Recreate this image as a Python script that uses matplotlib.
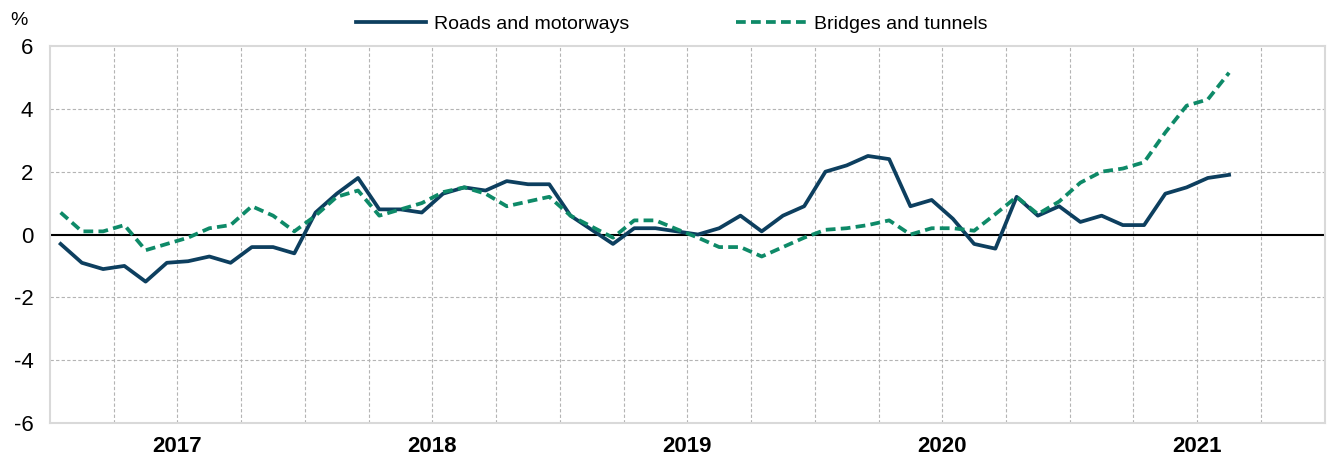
import numpy as np
import matplotlib
matplotlib.use("Agg")
import matplotlib.pyplot as plt

plt.rcParams['font.family'] = ['Liberation Sans Narrow', 'Liberation Sans', 'DejaVu Sans']
plt.rcParams['axes.unicode_minus'] = False

# monthly, Jan 2017 .. Aug 2021
roads = [-0.3, -0.9, -1.1, -1.0, -1.5, -0.9, -0.85, -0.7, -0.9, -0.4, -0.4, -0.6,
         0.7, 1.3, 1.8, 0.8, 0.8, 0.7, 1.3, 1.5, 1.4, 1.7, 1.6, 1.6,
         0.6, 0.15, -0.3, 0.2, 0.2, 0.1, 0.0, 0.2, 0.6, 0.1, 0.6, 0.9,
         2.0, 2.2, 2.5, 2.4, 0.9, 1.1, 0.5, -0.3, -0.45, 1.2, 0.6, 0.9,
         0.4, 0.6, 0.3, 0.3, 1.3, 1.5, 1.8, 1.9]
bridges = [0.7, 0.1, 0.1, 0.3, -0.5, -0.3, -0.1, 0.2, 0.3, 0.9, 0.6, 0.1,
           0.6, 1.2, 1.4, 0.6, 0.8, 1.0, 1.35, 1.5, 1.3, 0.9, 1.05, 1.2,
           0.6, 0.25, -0.1, 0.45, 0.45, 0.17, -0.1, -0.4, -0.4, -0.7, -0.4, -0.1,
           0.15, 0.2, 0.3, 0.45, 0.0, 0.2, 0.2, 0.12, 0.65, 1.2, 0.65, 1.05,
           1.65, 2.0, 2.1, 2.3, 3.25, 4.1, 4.3, 5.15]
years = ['2017', '2018', '2019', '2020', '2021']
n_months = 60

x = np.arange(len(roads)) + 0.5

fig = plt.figure(figsize=(13.3, 4.62), dpi=100)
ax = fig.add_axes([0.0376, 0.0844, 0.9584, 0.816])

ax.plot(x, roads, color='#0d3f5f', linewidth=2.7, label='Roads and motorways', zorder=3)
ax.plot(x, bridges, color='#0e8a68', linewidth=2.7, linestyle=(0, (2.6, 1.4)),
        label='Bridges and tunnels', zorder=3)
ax.axhline(0, color='black', linewidth=1.5, zorder=2)

ax.set_xlim(0, n_months)
ax.set_ylim(-6, 6)
ax.set_yticks(np.arange(-6, 7, 2))
ax.set_xticks(np.arange(6, n_months, 12))
ax.set_xticklabels(years, fontweight='bold', fontsize=16)
ax.tick_params(axis='both', which='both', length=0, labelsize=16)
ax.tick_params(axis='y', pad=12)
ax.tick_params(axis='x', pad=9)

for yv in [-4, -2, 2, 4]:
    ax.axhline(yv, color='#b4b4b4', linewidth=0.8, linestyle=(0, (3, 2)), zorder=1)
for xv in np.arange(3, n_months, 3):
    ax.axvline(xv, color='#b4b4b4', linewidth=0.8, linestyle=(0, (3, 2)), zorder=1)

for s in ax.spines.values():
    s.set_color('#d9d9d9')
    s.set_linewidth(1.5)

fig.text(0.008, 0.955, '%', fontsize=14, ha='left', va='center')

fig.legend(loc='center', bbox_to_anchor=(0.505, 0.947), ncol=2, frameon=False,
           fontsize=14, handlelength=3.6, handletextpad=0.4, columnspacing=5.5)

fig.savefig('out.png', dpi=100)
